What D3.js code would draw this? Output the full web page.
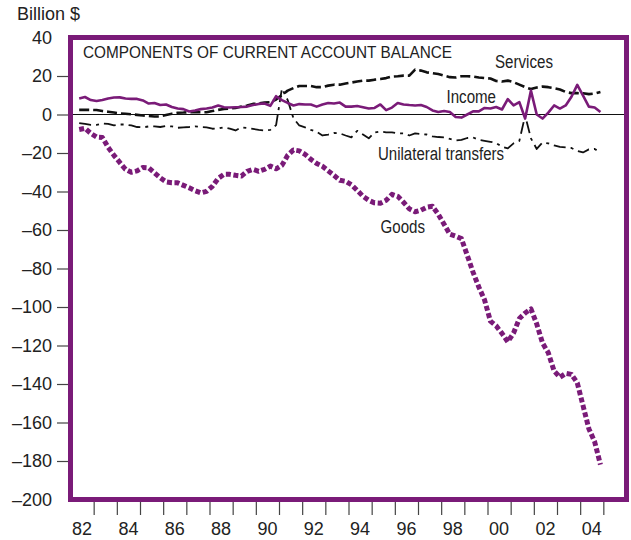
<!DOCTYPE html>
<html>
<head>
<meta charset="utf-8">
<script src="https://cdn.jsdelivr.net/npm/d3@7"></script>
<style>
  body { margin: 0; background: #fff; }
  svg text { font-family: "Liberation Sans", Arial, sans-serif; fill: #222; }
</style>
</head>
<body>
<div class="chart"></div>
<script>
// quarterly data, 1982Q2 - 2004Q4, billion $
var startYear = 1982;
var startQuarter = 2;

var goods = [-7.8, -7.2, -9.8, -11.7, -11.9, -17.1, -21.2, -24.9, -28.5, -30,
  -29.3, -27.5, -27.7, -30.3, -32.9, -35, -35.5, -35.5, -36.8, -38.1,
  -39.6, -40.7, -39.9, -37.3, -33.2, -31.1, -31.1, -31.6, -32, -29.5,
  -28.5, -29.5, -28.5, -26.8, -28.2, -26.4, -21.2, -18.4, -18.9, -20.7,
  -23.3, -25.4, -26.9, -29.3, -31.6, -34.2, -34.7, -36.5, -39.4, -42.5,
  -44.6, -45.9, -46.1, -44.6, -41.5, -42.5, -45.6, -49, -50.5, -49.7,
  -48.2, -47.7, -51.8, -57, -62.2, -63.2, -64.5, -73.1, -81.9, -89.6,
  -96.4, -107.3, -109.8, -113.7, -118.1, -113.5, -106, -103.1, -101, -108.8,
  -118.7, -123.8, -133.2, -136.5, -134.5, -135, -139.4, -151.3, -163.2, -170,
  -181.9];

var income = [8.3, 9.1, 7.5, 7, 7.5, 8.3, 8.8, 8.9, 8.3, 8.1,
  8.1, 7.3, 5.7, 6, 4.9, 5.2, 3.9, 3.1, 2.8, 1.6,
  2.1, 2.8, 3.1, 3.6, 4.7, 3.8, 3.6, 3.8, 3.9, 4.1,
  4.9, 5.5, 5.7, 4.5, 9.5, 7.5, 6, 4.7, 5.4, 5.2,
  5.2, 4.1, 5.2, 6, 5.7, 6.2, 4.1, 4.1, 4.4, 3.8,
  3.1, 3.4, 5.2, 2.3, 3.6, 6, 5.2, 4.9, 4.7, 4.9,
  3.9, 2.1, 1.3, 1.8, 1.3, -1.3, -1.6, 0, 1.6, 1.6,
  3.4, 3.1, 3.9, 2.6, 8, 4.7, 6.4, -2.1, 12.4, 0,
  -2.1, 1, 4.7, 3.1, 4.7, 9.2, 15.4, 9.8, 4.1, 3.6,
  1.3];

var services = [2.4, 2.4, 2.4, 2.3, 1.8, 1.4, 1, 0.6, 0.4, 0.1,
  -0.2, -0.5, -0.8, -1, -1, -0.3, 0.4, 0.9, 1, 1.2,
  1.2, 1.2, 1.2, 1.8, 2.4, 2.9, 3.1, 3.4, 4.1, 4.7,
  5.5, 5.7, 6.2, 6.4, 7.8, 10.1, 12.4, 13.7, 14.8, 14.8,
  14.8, 14.2, 14.2, 15, 15.5, 15.5, 16.1, 16.6, 17.1, 17.6,
  17.6, 18.1, 18.4, 18.9, 19.7, 19.9, 20.2, 20.2, 23.3, 22.8,
  21.9, 21.5, 21, 20.2, 19.4, 19.2, 19.9, 19.9, 19.7, 19.2,
  18.9, 18.7, 17.4, 17.1, 17.6, 16.8, 15.5, 14.2, 13.2, 14,
  14.5, 14.2, 13.7, 13, 11.7, 11.1, 11.1, 11, 10.6, 10.9,
  11.7];

var transfers = [-4.5, -4.9, -5.4, -5.4, -4.7, -4.9, -5.7, -5.2, -5.2, -5.7,
  -6.5, -6.7, -6.2, -6.2, -6.5, -6, -6.2, -6.9, -6.7, -6.5,
  -6.2, -6.5, -6.7, -7.4, -7.3, -6.6, -7.3, -8.3, -6.7, -7,
  -7.5, -8, -8.3, -8, -5.5, 13.5, 7.5, -2, -5.7, -6.7,
  -8, -9, -10.9, -10.4, -9.6, -9.8, -10.9, -11.9, -8.5, -10.4,
  -12.4, -9.3, -8.8, -9.3, -9.3, -9.8, -9.8, -10.9, -9.8, -10.1,
  -10.4, -11.4, -11.7, -11.9, -12.7, -13.5, -13.2, -12.2, -11.9, -13.2,
  -13.7, -14.2, -14.8, -16.8, -17.6, -15, -13.7, -0.5, -12.4, -17.9,
  -14.5, -15, -16.1, -16.8, -17.1, -17.4, -18.9, -19.7, -18.1, -17.9,
  -19.7];

var yTicks = [40, 20, 0, -20, -40, -60, -80, -100, -120, -140, -160, -180, -200];
var yearTicks = d3.range(1983, 2006);
var yearLabels = ["82", "84", "86", "88", "90", "92", "94", "96", "98", "00", "02", "04"];

var purple = "#7a1b78";

var svgWidth = 631;
var svgHeight = 540;

var svg = d3.select(".chart")
  .append("svg")
  .attr("width", svgWidth)
  .attr("height", svgHeight);

// plot frame in data space
var x = d3.scaleLinear().domain([1982, 2006]).range([70.5, 626.5]);
var y = d3.scaleLinear().domain([-200, 40]).range([499.5, 37.5]);

// time of each quarter (plotted at mid-quarter)
function qTime(i) {
  var q = startQuarter - 1 + i;
  return startYear + Math.floor(q / 4) + ((q % 4) + 0.5) / 4;
}

// y axis
var yAxis = svg.append("g")
  .attr("transform", "translate(68,0)")
  .call(d3.axisLeft(y)
    .tickValues(yTicks)
    .tickSize(11)
    .tickPadding(5)
    .tickFormat(d => d < 0 ? "\u2013" + Math.abs(d) : d));
yAxis.select(".domain").remove();
yAxis.selectAll(".tick line")
  .attr("stroke", "#444")
  .attr("stroke-width", 1.2)
  .attr("display", d => (d === 40 || d === -200) ? "none" : null);
yAxis.selectAll("text")
  .attr("font-size", 18)
  .attr("font-family", "Liberation Sans, Arial, sans-serif")
  .attr("fill", "#222");

// x axis: ticks at year boundaries, labels centred in even years
var xAxis = svg.append("g")
  .attr("transform", "translate(0,502)")
  .call(d3.axisBottom(x)
    .tickValues(yearTicks)
    .tickSize(13)
    .tickFormat(""));
xAxis.select(".domain").remove();
xAxis.selectAll(".tick line").attr("stroke", "#444").attr("stroke-width", 1.2);

svg.append("g")
  .selectAll("text")
  .data(yearLabels)
  .enter()
  .append("text")
  .attr("x", (d, i) => x(1982 + 2 * i + 0.5))
  .attr("y", 535)
  .attr("text-anchor", "middle")
  .attr("font-size", 18)
  .text(d => d);

// zero line
svg.append("line")
  .attr("x1", x(1982)).attr("x2", x(2006))
  .attr("y1", y(0)).attr("y2", y(0))
  .attr("stroke", "#111")
  .attr("stroke-width", 1.2);

var line = d3.line()
  .x((d, i) => x(qTime(i)))
  .y(d => y(d));

var series = [
  { values: transfers, color: "#111", width: 1.8, dash: "12,5,3,5" },
  { values: services, color: "#111", width: 2.6, dash: "10,4" },
  { values: income, color: purple, width: 2.6, dash: null },
  { values: goods, color: purple, width: 5, dash: "5,2.6" }
];

svg.append("g")
  .selectAll("path")
  .data(series)
  .enter()
  .append("path")
  .attr("d", d => line(d.values))
  .attr("fill", "none")
  .attr("stroke", d => d.color)
  .attr("stroke-width", d => d.width)
  .attr("stroke-dasharray", d => d.dash)
  .attr("stroke-linejoin", "round");

// frame
svg.append("rect")
  .attr("x", x(1982))
  .attr("y", y(40))
  .attr("width", x(2006) - x(1982))
  .attr("height", y(-200) - y(40))
  .attr("fill", "none")
  .attr("stroke", purple)
  .attr("stroke-width", 5);

// titles and labels
svg.append("text")
  .attr("x", 17).attr("y", 20)
  .attr("font-size", 18)
  .text("Billion $");

svg.append("text")
  .attr("x", 83).attr("y", 58)
  .attr("font-size", 16)
  .attr("textLength", 369)
  .attr("lengthAdjust", "spacingAndGlyphs")
  .text("COMPONENTS OF CURRENT ACCOUNT BALANCE");

var labels = [
  { text: "Services", x: 495, y: 68, len: 58 },
  { text: "Income", x: 446.5, y: 103, len: 49.5 },
  { text: "Unilateral transfers", x: 378, y: 160, len: 126 },
  { text: "Goods", x: 380.5, y: 233, len: 44.5 }
];

svg.append("g")
  .selectAll("text")
  .data(labels)
  .enter()
  .append("text")
  .attr("x", d => d.x)
  .attr("y", d => d.y)
  .attr("font-size", 18)
  .attr("textLength", d => d.len)
  .attr("lengthAdjust", "spacingAndGlyphs")
  .text(d => d.text);
</script>
</body>
</html>
